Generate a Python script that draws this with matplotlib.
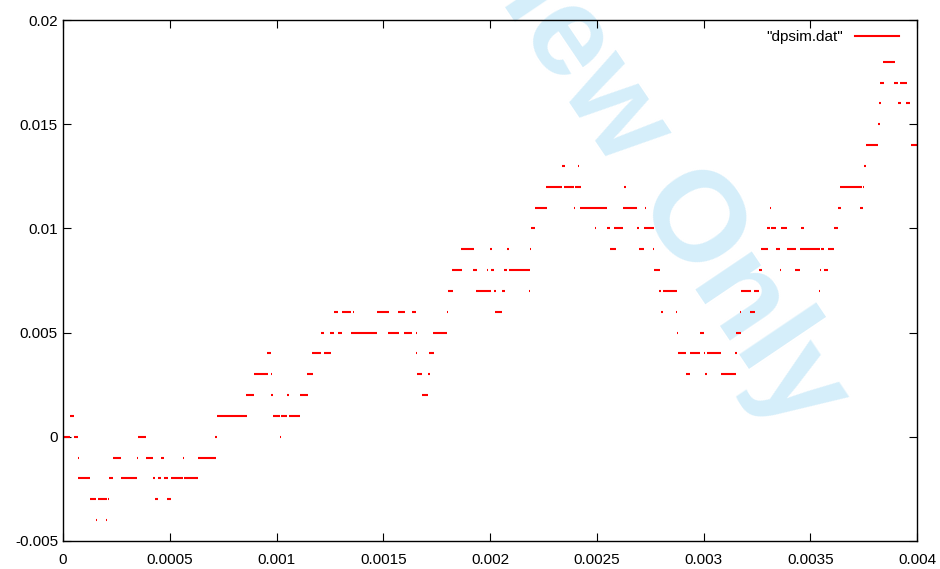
import matplotlib

matplotlib.use("Agg")

import matplotlib.pyplot as plt
from matplotlib.lines import Line2D

# runs of samples at one quantised level: level in 1e-3, start/end in microseconds
seg_level = [
    -4, -4,
    -3, -3, -3, -3, -3,
    -2, -2, -2, -2, -2, -2, -2, -2,
    -1, -1, -1, -1, -1, -1, -1,
    0, 0, 0, 0, 0,
    1, 1, 1, 1, 1,
    2, 2, 2, 2, 2,
    3, 3, 3, 3, 3,
    4, 4, 4, 4, 4,
    5, 5, 5, 5, 5, 5, 5, 5,
    6, 6, 6, 6, 6, 6, 6, 6,
    7, 7, 7, 7, 7,
    8, 8, 8, 8, 8, 8,
    9, 9, 9, 9,
    10, 10, 10, 10, 10, 10,
    11, 11, 11, 11, 11,
    12, 12, 12, 12,
    13, 13,
    9, 9, 9,
    8,
    7, 7,
    6, 6,
    5, 5, 5,
    4, 4, 4, 4, 4,
    3, 3, 3,
    6, 6,
    7, 7, 7,
    8, 8, 8, 8, 8,
    9, 9, 9, 9, 9, 9,
    10, 10, 10, 10, 10,
    11, 11, 11,
    12, 12,
    13,
    14, 14,
    15,
    16, 16, 16,
    17, 17, 17,
    18,
]
seg_t0 = [
    155, 201,
    127, 163, 211, 431, 489,
    72, 216, 273, 423, 446, 475, 507, 567,
    69, 233, 348, 389, 459, 561, 634,
    0, 53, 350, 712, 1015,
    33, 721, 984, 1021, 1059,
    857, 974, 1048, 1110, 1682,
    895, 973, 1144, 1658, 1708,
    956, 1166, 1221, 1654, 1716,
    1209, 1251, 1287, 1349, 1524, 1599, 1652, 1733,
    1269, 1308, 1358, 1472, 1571, 1635, 1799, 2025,
    1802, 1935, 2019, 2055, 2184,
    1824, 1920, 1986, 2005, 2066, 2088,
    1866, 2002, 2078, 2187,
    2192, 2492, 2550, 2582, 2689, 2720,
    2211, 2394, 2423, 2623, 2726,
    2264, 2348, 2398, 2629,
    2337, 2414,
    2562, 2698, 2764,
    2767,
    2792, 2809,
    2801, 2873,
    2876, 2982, 3152,
    2881, 2936, 3001, 3015, 3146,
    2917, 3007, 3081,
    3171, 3218,
    3176, 3237, 3543,
    3260, 3357, 3429, 3546, 3563,
    3270, 3338, 3390, 3452, 3549, 3583,
    3296, 3316, 3362, 3456, 3611,
    3312, 3630, 3735,
    3640, 3746,
    3752,
    3760, 3972,
    3816,
    3824, 3910, 3949,
    3827, 3894, 3922,
    3842,
]
seg_t1 = [
    161, 208,
    156, 205, 216, 446, 507,
    127, 233, 348, 431, 459, 490, 561, 634,
    73, 272, 352, 423, 475, 565, 715,
    34, 69, 389, 723, 1021,
    53, 861, 1016, 1049, 1112,
    895, 984, 1060, 1148, 1711,
    959, 978, 1170, 1683, 1718,
    974, 1210, 1254, 1660, 1736,
    1223, 1271, 1307, 1472, 1572, 1635, 1657, 1800,
    1287, 1349, 1363, 1526, 1601, 1654, 1803, 2056,
    1825, 2003, 2027, 2070, 2188,
    1869, 1938, 1990, 2020, 2081, 2187,
    1924, 2008, 2088, 2191,
    2211, 2495, 2562, 2624, 2699, 2767,
    2266, 2400, 2547, 2687, 2729,
    2339, 2394, 2426, 2636,
    2350, 2417,
    2589, 2723, 2768,
    2795,
    2800, 2875,
    2810, 2877,
    2881, 3003, 3174,
    2917, 2984, 3007, 3082, 3156,
    2937, 3015, 3150,
    3177, 3240,
    3223, 3262, 3547,
    3273, 3363, 3454, 3549, 3585,
    3301, 3359, 3432, 3546, 3566, 3613,
    3312, 3340, 3393, 3471, 3630,
    3318, 3642, 3749,
    3741, 3753,
    3760,
    3817, 4000,
    3827,
    3830, 3924, 3967,
    3844, 3911, 3952,
    3897,
]

x_ticks = [0, 0.0005, 0.001, 0.0015, 0.002, 0.0025, 0.003, 0.0035, 0.004]
x_labels = ["0", "0.0005", "0.001", "0.0015", "0.002", "0.0025", "0.003", "0.0035", "0.004"]
y_ticks = [-0.005, 0, 0.005, 0.01, 0.015, 0.02]
y_labels = ["-0.005", "0", "0.005", "0.01", "0.015", "0.02"]

plt.rcParams["font.family"] = ["Liberation Sans", "DejaVu Sans"]

fig = plt.figure(figsize=(9.4, 5.69), dpi=100)
fig.patch.set_facecolor("white")
ax = fig.add_axes([63 / 940, 1 - 541 / 569, 854 / 940, 521 / 569])
ax.set_facecolor("none")

# watermark behind everything
fig.text(
    596 / 940, 1 - 84 / 569, "Preview Only",
    rotation=-56, rotation_mode="anchor", ha="center", va="center",
    fontsize=92, fontweight="bold", color="#d5eefa", zorder=-1,
)

levels = [v * 1e-3 for v in seg_level]
t0 = [v * 1e-6 for v in seg_t0]
t1 = [v * 1e-6 for v in seg_t1]
ax.hlines(levels, t0, t1, colors="red", linewidth=1.5)

ax.set_xlim(0, 0.004)
ax.set_ylim(-0.005, 0.02)
ax.set_xticks(x_ticks)
ax.set_xticklabels(x_labels)
ax.set_yticks(y_ticks)
ax.set_yticklabels(y_labels)
ax.tick_params(direction="in", length=6, width=0.8, top=True, right=True,
               labelsize=11, colors="black")
ax.tick_params(axis="y", pad=3.6)
ax.tick_params(axis="x", pad=9)
for sp in ax.spines.values():
    sp.set_linewidth(1.0)
    sp.set_color("black")

handle = Line2D([], [], color="red", linewidth=1.5)
ax.legend(
    [handle], ['"dpsim.dat"'],
    loc="upper right", bbox_to_anchor=(899 / 940, 1 - 30 / 569),
    bbox_transform=fig.transFigure, frameon=False, markerfirst=False,
    fontsize=11, handlelength=2.85, handletextpad=0.8,
    borderpad=0, borderaxespad=0,
)

fig.savefig("out.png", dpi=100)
plt.close(fig)
